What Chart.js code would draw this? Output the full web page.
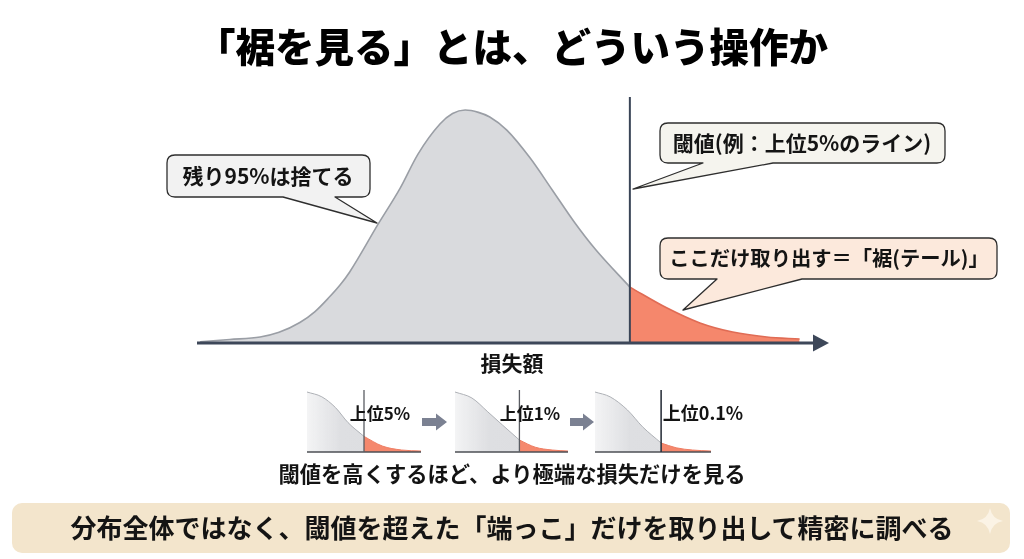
<!DOCTYPE html>
<html lang="ja">
<head>
<meta charset="utf-8">
<script src="https://cdn.jsdelivr.net/npm/chart.js@4.4.1/dist/chart.umd.min.js"></script>
<style>
html,body{margin:0;padding:0;background:#fff;}
#stage{position:relative;width:1024px;height:559px;overflow:hidden;background:#fff;font-family:"Noto Sans CJK JP","Noto Sans",sans-serif;color:#141414;}
canvas{position:absolute;}
svg{position:absolute;left:0;top:0;}
.t{position:absolute;white-space:nowrap;font-weight:700;line-height:1;transform:translate(-50%,-50%);}
</style>
</head>
<body>
<div id="stage">
  <canvas id="main" width="1024" height="559" style="left:0;top:0;width:1024px;height:559px"></canvas>
  <canvas id="mini0"></canvas>
  <canvas id="mini1"></canvas>
  <canvas id="mini2"></canvas>
  <svg id="deco" width="1024" height="559" viewBox="0 0 1024 559"></svg>
  <div id="texts"></div>
</div>
<script>
// ---------- DATA ----------
const titleText = "「裾を見る」とは、どういう操作か";
const axisLabel = "損失額";
// main distribution: loss (x) and relative density (y, % of peak)
const lossValues    = [0.5, 5.2, 10.0, 13.0, 16.3, 18.7, 20.9, 22.7, 24.2, 28.7, 32.2, 35.0, 38.5, 40.5, 42.5, 44.6, 46.4, 49.1, 52.8, 56.3, 59.9, 63.2, 68.6, 74.5, 79.7, 84.9, 90.3, 95.5];
const densityValues = [0.5, 1.5, 2.6, 4.6, 8.8, 13.5, 19.5, 25, 30.5, 51, 66.5, 81, 94, 98.5, 100, 99, 97, 91.4, 79.4, 65.7, 51.5, 40, 24, 15, 8.6, 4.7, 2.6, 1.7];
const thresholdLoss = 68.6;
const calloutTexts = ["残り95%は捨てる", "閾値(例：上位5%のライン)", "ここだけ取り出す＝「裾(テール)」"];
// mini panels (right half of distribution, threshold raised)
const miniLabels = ["上位5%", "上位1%", "上位0.1%"];
const miniX0 = [0, 13, 25, 36, 50, 66, 83, 100];
const miniY0 = [100, 92, 74, 49, 26, 10, 3.3, 1.6];
const miniX1 = [0, 15, 29, 42, 57, 71, 86, 100];
const miniY1 = [100, 90, 67, 45, 20, 8, 3.3, 1.6];
const miniX2 = [0, 13, 28, 41, 57, 70, 84, 100];
const miniY2 = [100, 92, 70, 42, 15, 7, 3.3, 1.6];
const miniThresholds = [50, 57, 57];
const captionText = "閾値を高くするほど、より極端な損失だけを見る";
const bannerText = "分布全体ではなく、閾値を超えた「端っこ」だけを取り出して精密に調べる";

// ---------- helpers ----------
function splitAt(xs, ys, t){
  const left=[], right=[];
  xs.forEach((x,i)=>{ if(x<=t) left.push({x, y:ys[i]}); if(x>=t) right.push({x, y:ys[i]}); });
  return [left, right];
}

// ---------- MAIN CHART ----------
const [greyPts, redPts] = splitAt(lossValues, densityValues, thresholdLoss);
const mainDeco = {
  id:'mainDeco',
  afterDatasetsDraw(chart){
    const {ctx, chartArea, scales:{x, y}} = chart;
    const base = y.getPixelForValue(0);
    ctx.save();
    const tx = x.getPixelForValue(thresholdLoss);
    ctx.strokeStyle = '#3a4557'; ctx.lineWidth = 2;
    ctx.beginPath(); ctx.moveTo(tx, chartArea.top); ctx.lineTo(tx, base); ctx.stroke();
    const x0 = x.getPixelForValue(0), x1 = x.getPixelForValue(100);
    ctx.strokeStyle = '#3d4759'; ctx.lineWidth = 3;
    ctx.beginPath(); ctx.moveTo(x0, base); ctx.lineTo(x1 - 12, base); ctx.stroke();
    ctx.fillStyle = '#3d4759';
    ctx.beginPath(); ctx.moveTo(x1 + 1, base); ctx.lineTo(x1 - 15, base - 8.5); ctx.lineTo(x1 - 15, base + 8.5); ctx.closePath(); ctx.fill();
    ctx.restore();
  }
};
new Chart(document.getElementById('main'), {
  type:'line',
  data:{ datasets:[
    { data: greyPts, borderColor:'#9a9ea5', borderWidth:1.6, backgroundColor:'#d9dadd', fill:'origin', pointRadius:0, cubicInterpolationMode:'monotone' },
    { data: redPts, borderColor:'#e06c55', borderWidth:1.6, backgroundColor:'#f5876c', fill:'origin', pointRadius:0, cubicInterpolationMode:'monotone' }
  ]},
  options:{
    responsive:false, animation:false, devicePixelRatio:1,
    layout:{ padding:{ left:197, right:196, top:97, bottom:216 } },
    plugins:{ legend:{display:false}, tooltip:{enabled:false} },
    scales:{ x:{ type:'linear', min:0, max:100, display:false }, y:{ min:0, max:105.6, display:false } }
  },
  plugins:[mainDeco]
});

// ---------- MINI CHARTS ----------
const miniGeom = [ {left:307, width:114}, {left:455, width:113}, {left:595, width:116} ];
const miniXs = [miniX0, miniX1, miniX2], miniYs = [miniY0, miniY1, miniY2];
miniGeom.forEach((g, k)=>{
  const cv = document.getElementById('mini'+k);
  const W = g.width + 4, H = 70;
  cv.width = W; cv.height = H;
  cv.style.left = (g.left - 2) + 'px'; cv.style.top = '386px';
  cv.style.width = W + 'px'; cv.style.height = H + 'px';
  const [gp, rp] = splitAt(miniXs[k], miniYs[k], miniThresholds[k]);
  const deco = {
    id:'miniDeco'+k,
    afterDatasetsDraw(chart){
      const {ctx, chartArea, scales:{x, y}} = chart;
      const base = y.getPixelForValue(0);
      ctx.save();
      ctx.strokeStyle = '#4d4f55'; ctx.lineWidth = 1.3;
      ctx.beginPath(); ctx.moveTo(x.getPixelForValue(0), base); ctx.lineTo(x.getPixelForValue(100), base); ctx.stroke();
      const tx = x.getPixelForValue(miniThresholds[k]);
      ctx.strokeStyle = k === 2 ? '#2f3540' : '#5a5d63'; ctx.lineWidth = k === 2 ? 1.6 : 1.3;
      ctx.beginPath(); ctx.moveTo(tx, chartArea.top + 2); ctx.lineTo(tx, base); ctx.stroke();
      ctx.restore();
    }
  };
  new Chart(cv, {
    type:'line',
    data:{ datasets:[
      { data: gp, borderColor:'#aeb1b6', borderWidth:1, fill:'origin', pointRadius:0, cubicInterpolationMode:'monotone',
        backgroundColor(c){ const a=c.chart.chartArea; if(!a) return '#dcdde0';
          const gr=c.chart.ctx.createLinearGradient(a.left,0,a.right,0);
          gr.addColorStop(0,'rgba(222,223,226,0.35)'); gr.addColorStop(0.3,'#dedfe2'); gr.addColorStop(1,'#dcdde0'); return gr; } },
      { data: rp, borderColor:'#ee7d63', borderWidth:1, backgroundColor:'#f5886d', fill:'origin', pointRadius:0, cubicInterpolationMode:'monotone' }
    ]},
    options:{
      responsive:false, animation:false, devicePixelRatio:1,
      layout:{ padding:{ left:2, right:2, top:2, bottom:4 } },
      plugins:{ legend:{display:false}, tooltip:{enabled:false} },
      scales:{ x:{ type:'linear', min:0, max:100, display:false }, y:{ min:0, max:106.7, display:false } }
    },
    plugins:[deco]
  });
});

// ---------- DECORATION (callouts, arrows, banner) ----------
const NS = 'http://www.w3.org/2000/svg';
const svg = document.getElementById('deco');
function el(tag, attrs){ const e=document.createElementNS(NS, tag); for(const k in attrs) e.setAttribute(k, attrs[k]); svg.appendChild(e); return e; }
function bubblePath(x1,y1,x2,y2,r,bl,br,tx,ty){
  return `M${x1+r},${y1} H${x2-r} Q${x2},${y1} ${x2},${y1+r} V${y2-r} Q${x2},${y2} ${x2-r},${y2} H${br} L${tx},${ty} L${bl},${y2} H${x1+r} Q${x1},${y2} ${x1},${y2-r} V${y1+r} Q${x1},${y1} ${x1+r},${y1} Z`;
}
const bubbles = [
  {box:[167,155,370,197], tail:[283,335,377,223], fill:'#f2f2f2'},
  {box:[660,123,945,163], tail:[703,773,633,189], fill:'#f5f4ee'},
  {box:[660,238,997,279], tail:[717,802,683,310], fill:'#fce9dc'}
];
bubbles.forEach(b=>{
  el('path', {d:bubblePath(b.box[0],b.box[1],b.box[2],b.box[3],8,b.tail[0],b.tail[1],b.tail[2],b.tail[3]), fill:b.fill, stroke:'#2e2e2e', 'stroke-width':1.3, 'stroke-linejoin':'round'});
});
[[422,447],[570,594]].forEach(([a,b])=>{
  const cy=422;
  el('path',{d:`M${a},${cy-4} H${b-11} V${cy-8.5} L${b},${cy} L${b-11},${cy+8.5} V${cy+4} H${a} Z`, fill:'#7b8192'});
});
el('rect',{x:12,y:503,width:998,height:50,rx:10,ry:10,fill:'#f3e5cc'});
el('path',{d:'M990,508 Q992,519 1003,521 Q992,523 990,534 Q988,523 977,521 Q988,519 990,508 Z', fill:'#fbf3e5'});

// ---------- TEXT ----------
const texts = document.getElementById('texts');
function txt(s, cx, cy, size, weight, color){
  const d=document.createElement('div'); d.className='t'; d.textContent=s;
  d.style.left=cx+'px'; d.style.top=cy+'px'; d.style.fontSize=size+'px';
  if(weight) d.style.fontWeight=weight; if(color) d.style.color=color;
  texts.appendChild(d); return d;
}
txt(titleText, 512, 45, 39.5, 900, '#000');
txt(axisLabel, 512, 362, 21, 700);
txt(calloutTexts[0], 268, 175, 21, 700);
txt(calloutTexts[1], 802, 142, 21, 700);
txt(calloutTexts[2], 829, 257, 20.3, 700);
txt(miniLabels[0], 380, 412, 17, 700);
txt(miniLabels[1], 530, 412, 17, 700);
txt(miniLabels[2], 703, 412, 18, 700);
txt(captionText, 512, 473, 21.3, 700);
txt(bannerText, 512, 527, 26, 700);
</script>
</body>
</html>
